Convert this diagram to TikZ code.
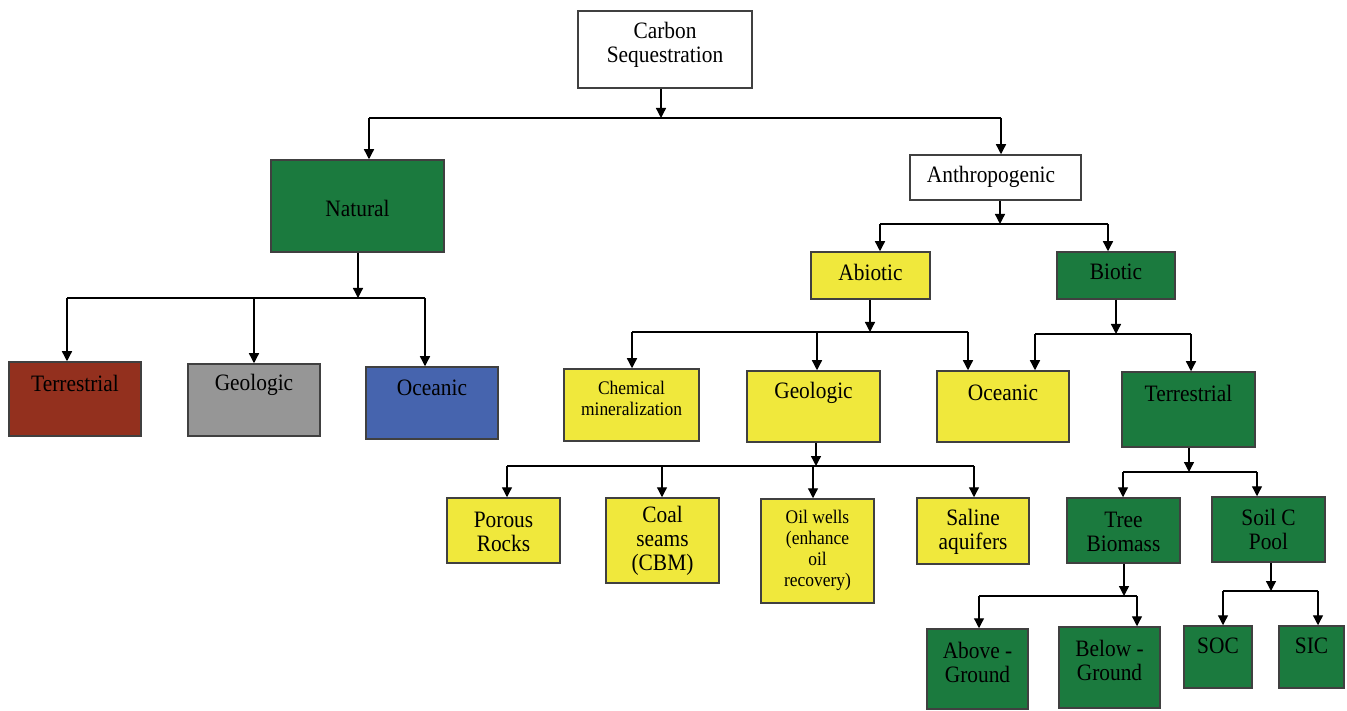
\documentclass[tikz,border=0pt]{standalone}
\usepackage{fontspec}
\setmainfont{Liberation Serif}[FakeStretch=0.91]
\usetikzlibrary{arrows.meta}
\definecolor{cgreen}{HTML}{1B7A3E}
\definecolor{cyellow}{HTML}{F0E83C}
\definecolor{cbrown}{HTML}{93301E}
\definecolor{cgray}{HTML}{969696}
\definecolor{cblue}{HTML}{4664AE}
\begin{document}
\begin{tikzpicture}[x=1pt,y=-1pt,
  box/.style={draw=black!75,line width=1.5pt,inner sep=0pt,rectangle},
  lbl/.style={align=center,inner sep=0pt,font=\fontsize{23.5}{24}\selectfont},
  sml/.style={align=center,inner sep=0pt,font=\fontsize{19.2}{21}\selectfont},
  arr/.style={line width=1.3pt,-{Triangle[length=10pt,width=10pt]}},
  ln/.style={line width=1.3pt}]
\useasboundingbox[fill=white] (0,0) rectangle (1347,711);
% boxes
\node[box,fill=white,minimum width=174pt,minimum height=77pt] (cs) at (665,49.5) {};
\node[lbl] (cst) at (665,45) {Carbon\\Sequestration};
\node[box,fill=cgreen,minimum width=173pt,minimum height=92pt] (nat) at (357.5,206) {};
\node[lbl] (natt) at (357.5,208) {Natural};
\node[box,fill=white,minimum width=171pt,minimum height=45pt] (anth) at (995.5,177.5) {};
\node[lbl] (antht) at (991,177) {Anthropogenic};
\node[box,fill=cbrown,minimum width=132pt,minimum height=74pt] (terr1) at (75,399) {};
\node[lbl] (terr1t) at (75,383) {Terrestrial};
\node[box,fill=cgray,minimum width=132pt,minimum height=72pt] (geo1) at (254,400) {};
\node[lbl] (geo1t) at (254,385) {Geologic};
\node[box,fill=cblue,minimum width=132pt,minimum height=72pt] (oce1) at (432,403) {};
\node[lbl] (oce1t) at (432,388) {Oceanic};
\node[box,fill=cyellow,minimum width=119pt,minimum height=47pt] (abio) at (870.5,275.5) {};
\node[lbl] (abiot) at (870.5,272) {Abiotic};
\node[box,fill=cgreen,minimum width=118pt,minimum height=47pt] (biot) at (1116,275.5) {};
\node[lbl] (biott) at (1116,272) {Biotic};
\node[box,fill=cyellow,minimum width=135pt,minimum height=72pt] (chem) at (631.5,405) {};
\node[sml] (chemt) at (631.5,398.5) {Chemical\\mineralization};
\node[box,fill=cyellow,minimum width=133pt,minimum height=71pt] (geo2) at (813.5,406.5) {};
\node[lbl] (geo2t) at (813.5,393) {Geologic};
\node[box,fill=cyellow,minimum width=132pt,minimum height=71pt] (oce2) at (1003,406.5) {};
\node[lbl] (oce2t) at (1003,393) {Oceanic};
\node[box,fill=cgreen,minimum width=133pt,minimum height=75pt] (terr2) at (1188.5,409.5) {};
\node[lbl] (terr2t) at (1188.5,393) {Terrestrial};
\node[box,fill=cyellow,minimum width=113pt,minimum height=65pt] (por) at (503.5,530.5) {};
\node[lbl] (port) at (503.5,531.5) {Porous\\Rocks};
\node[box,fill=cyellow,minimum width=113pt,minimum height=85pt] (coal) at (662.5,540.5) {};
\node[lbl] (coalt) at (662.5,541) {Coal\\seams\\(CBM)};
\node[box,fill=cyellow,minimum width=113pt,minimum height=104pt] (oil) at (817.5,551) {};
\node[sml] (oilt) at (817.5,550) {Oil wells\\(enhance\\oil\\recovery)};
\node[box,fill=cyellow,minimum width=112pt,minimum height=66pt] (sal) at (973,531) {};
\node[lbl] (salt) at (973,532) {Saline\\aquifers};
\node[box,fill=cgreen,minimum width=113pt,minimum height=65pt] (tree) at (1123.5,530.5) {};
\node[lbl] (treet) at (1123.5,532) {Tree\\Biomass};
\node[box,fill=cgreen,minimum width=113pt,minimum height=65pt] (soil) at (1268.5,529.5) {};
\node[lbl] (soilt) at (1268.5,529.5) {Soil C\\Pool};
\node[box,fill=cgreen,minimum width=101pt,minimum height=80pt] (abg) at (977.5,669) {};
\node[lbl] (abgt) at (977.5,662) {Above -\\Ground};
\node[box,fill=cgreen,minimum width=101pt,minimum height=81pt] (bg) at (1109.5,667.5) {};
\node[lbl] (bgt) at (1109.5,660.5) {Below -\\Ground};
\node[box,fill=cgreen,minimum width=68pt,minimum height=62pt] (soc) at (1218,657) {};
\node[lbl] (soct) at (1218,646) {SOC};
\node[box,fill=cgreen,minimum width=65pt,minimum height=62pt] (sic) at (1311.5,657) {};
\node[lbl] (sict) at (1311.5,646) {SIC};
% connectors: Carbon Sequestration
\coordinate (p1) at (661,118);
\coordinate (a1) at (369,118);
\coordinate (b1) at (1001,118);
\draw[arr] (cs.south -| p1) -- (p1);
\draw[ln] (a1) -- (b1);
\draw[arr] (a1) -- (a1 |- nat.north);
\draw[arr] (b1) -- (b1 |- anth.north);
% Natural
\coordinate (p2) at (358,298);
\coordinate (a2) at (67,298);
\coordinate (b2) at (254,298);
\coordinate (c2) at (425,298);
\draw[arr] (nat.south -| p2) -- (p2);
\draw[ln] (a2) -- (c2);
\draw[arr] (a2) -- (a2 |- terr1.north);
\draw[arr] (b2) -- (b2 |- geo1.north);
\draw[arr] (c2) -- (c2 |- oce1.north);
% Anthropogenic
\coordinate (p3) at (1000,224);
\coordinate (a3) at (880,224);
\coordinate (b3) at (1108,224);
\draw[arr] (anth.south -| p3) -- (p3);
\draw[ln] (a3) -- (b3);
\draw[arr] (a3) -- (a3 |- abio.north);
\draw[arr] (b3) -- (b3 |- biot.north);
% Abiotic
\coordinate (p4) at (870,332);
\coordinate (a4) at (632,332);
\coordinate (b4) at (817,332);
\coordinate (c4) at (968,332);
\draw[arr] (abio.south -| p4) -- (p4);
\draw[ln] (a4) -- (c4);
\draw[arr] (a4) -- (a4 |- chem.north);
\draw[arr] (b4) -- (b4 |- geo2.north);
\draw[arr] (c4) -- (c4 |- oce2.north);
% Biotic
\coordinate (p5) at (1116,334);
\coordinate (a5) at (1035,334);
\coordinate (b5) at (1191,334);
\draw[arr] (biot.south -| p5) -- (p5);
\draw[ln] (a5) -- (b5);
\draw[arr] (a5) -- (a5 |- oce2.north);
\draw[arr] (b5) -- (b5 |- terr2.north);
% Geologic (abiotic)
\coordinate (p6) at (816,466);
\coordinate (a6) at (507,466);
\coordinate (b6) at (662,466);
\coordinate (c6) at (813,466);
\coordinate (d6) at (974,466);
\draw[arr] (geo2.south -| p6) -- (p6);
\draw[ln] (a6) -- (d6);
\draw[arr] (a6) -- (a6 |- por.north);
\draw[arr] (b6) -- (b6 |- coal.north);
\draw[arr] (c6) -- (c6 |- oil.north);
\draw[arr] (d6) -- (d6 |- sal.north);
% Terrestrial (biotic)
\coordinate (p7) at (1189,472);
\coordinate (a7) at (1123,472);
\coordinate (b7) at (1257,472);
\draw[arr] (terr2.south -| p7) -- (p7);
\draw[ln] (a7) -- (b7);
\draw[arr] (a7) -- (a7 |- tree.north);
\draw[arr] (b7) -- (b7 |- soil.north);
% Tree Biomass
\coordinate (p8) at (1124,596);
\coordinate (a8) at (979,596);
\coordinate (b8) at (1137,596);
\draw[arr] (tree.south -| p8) -- (p8);
\draw[ln] (a8) -- (b8);
\draw[arr] (a8) -- (a8 |- abg.north);
\draw[arr] (b8) -- (b8 |- bg.north);
% Soil C Pool
\coordinate (p9) at (1271,591);
\coordinate (a9) at (1223,591);
\coordinate (b9) at (1318,591);
\draw[arr] (soil.south -| p9) -- (p9);
\draw[ln] (a9) -- (b9);
\draw[arr] (a9) -- (a9 |- soc.north);
\draw[arr] (b9) -- (b9 |- sic.north);
\end{tikzpicture}
\end{document}
